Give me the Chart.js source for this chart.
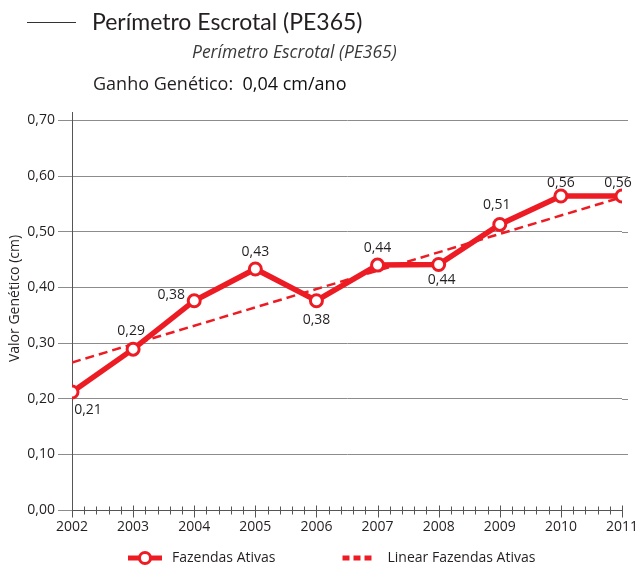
<!DOCTYPE html>
<html><head><meta charset="utf-8">
<script src="https://cdn.jsdelivr.net/npm/chart.js@4.4.1/dist/chart.umd.min.js"></script>
<style>
html,body{margin:0;padding:0;background:#fff;}
body{width:635px;height:568px;position:relative;overflow:hidden;font-family:Lato,"Open Sans",sans-serif;color:#231f20;}
#wrap{position:absolute;left:0;top:0;width:635px;height:575px;}
.t{position:absolute;white-space:nowrap;line-height:1;}
</style></head><body>
<div id="wrap"><canvas id="c" width="635" height="575"></canvas></div>
<div style="position:absolute;left:27px;top:22px;width:49px;height:1px;background:#333"></div>
<div class="t" style="left:92px;top:10px;font-size:23px;">Perímetro Escrotal (PE365)</div>
<div class="t" style="left:192px;top:43px;font-size:17.5px;font-style:italic;color:#3a3a3a;font-family:'Open Sans',sans-serif;">Perímetro Escrotal (PE365)</div>
<div class="t" style="left:93px;top:74px;font-size:18px;font-family:'Open Sans',sans-serif;">Ganho Genético:&nbsp; <span style="color:#111">0,04 cm/ano</span></div>
<script>
// ---- data ----
const anos = [2002, 2003, 2004, 2005, 2006, 2007, 2008, 2009, 2010, 2011];
const valores = [0.212, 0.289, 0.376, 0.433, 0.376, 0.440, 0.441, 0.513, 0.564, 0.564];
const tendenciaAnos = [2002, 2011];
const tendencia = [0.265, 0.562];
const yTicks = [0, 0.1, 0.2, 0.3, 0.4, 0.5, 0.6, 0.7];
const serieNome = 'Fazendas Ativas';
const tendenciaNome = 'Linear Fazendas Ativas';
const yTitulo = 'Valor Genético (cm)';

// ---- styles ----
const RED = '#ed1c24';
const TXT = '#231f20';
const FONT = '"Open Sans", sans-serif';
const labelOffsets = [[16,18],[-2,-18],[-23,-6],[0,-17],[0,19],[0,-17],[3,15],[-3,-19],[0,-13],[-4,-13]];
const LEGEND_START = 64;
const fmt = v => v.toFixed(2).replace('.', ',');

function legendImg(kind){
  const c = document.createElement('canvas');
  c.width = 101; c.height = 18;
  const g = c.getContext('2d');
  if (kind === 0){
    g.strokeStyle = RED; g.lineWidth = 5;
    g.beginPath(); g.moveTo(64, 9); g.lineTo(98, 9); g.stroke();
    g.beginPath(); g.arc(81, 9, 5.5, 0, Math.PI*2);
    g.fillStyle = '#fff'; g.fill(); g.lineWidth = 3; g.stroke();
  } else {
    g.fillStyle = RED;
    for (let k = 0; k < 3; k++) g.fillRect(63 + k*11, 6.5, 7, 5);
  }
  return c;
}
const imgs = [legendImg(0), legendImg(1)];

const legendShift = {
  id: 'legendShift',
  afterLayout(chart){
    const lg = chart.legend;
    if (!lg || !lg.lineWidths) return;
    const p = lg.options.labels.padding;
    const start = (lg.left + p + lg.right - lg.lineWidths[0]) / 2;
    const dx = start - LEGEND_START;
    lg.left -= dx; lg.right -= dx;
  }
};

const xTickPlugin = {
  id: 'xTickPlugin',
  afterDraw(chart){
    const ctx = chart.ctx, xs = chart.scales.x, ys = chart.scales.y;
    const y0 = Math.round(ys.getPixelForValue(0)) + 0.5;
    ctx.save();
    ctx.strokeStyle = '#8c8c8c'; ctx.lineWidth = 1; ctx.beginPath();
    const r = chart.chartArea.right;
    yTicks.forEach(v => { if (v > 0) { const py = Math.round(ys.getPixelForValue(v)) + 0.5; ctx.moveTo(r, py); ctx.lineTo(r + 6, py); } });
    ctx.stroke();
    ctx.strokeStyle = '#555'; ctx.beginPath();
    for (let i = 0; i < anos.length; i++){
      const px = Math.round(xs.getPixelForValue(anos[i])) + 0.5;
      ctx.moveTo(px, y0 - 5); ctx.lineTo(px, y0 + 7);
      if (i < anos.length - 1){
        for (let k = 1; k < 5; k++){
          const p = Math.round(xs.getPixelForValue(anos[i] + k/5)) + 0.5;
          ctx.moveTo(p, y0 - 4); ctx.lineTo(p, y0 + 4);
        }
      }
    }
    ctx.stroke();
    // y axis title, placed as in the original (slightly above the axis centre)
    ctx.translate(15, ys.getPixelForValue(0.38));
    ctx.rotate(-Math.PI / 2);
    ctx.font = '14px ' + FONT; ctx.fillStyle = TXT;
    ctx.textAlign = 'center'; ctx.textBaseline = 'middle';
    ctx.fillText(yTitulo, 0, 0);
    ctx.restore();
  }
};

const labelPlugin = {
  id: 'labelPlugin',
  afterDatasetsDraw(chart){
    const ctx = chart.ctx, meta = chart.getDatasetMeta(0);
    ctx.save();
    ctx.font = '14px ' + FONT; ctx.fillStyle = TXT;
    ctx.textAlign = 'center'; ctx.textBaseline = 'middle';
    meta.data.forEach((pt, i) => {
      const o = labelOffsets[i] || [0, -16];
      ctx.fillText(fmt(valores[i]), pt.x + o[0], pt.y + o[1]);
    });
    ctx.restore();
  }
};

new Chart(document.getElementById('c'), {
  type: 'line',
  data: {
    datasets: [
      {
        label: serieNome,
        data: anos.map((x, i) => ({x, y: valores[i]})),
        borderColor: RED, borderWidth: 5.5,
        pointRadius: 6, pointBorderWidth: 3,
        pointBackgroundColor: '#fff', pointBorderColor: RED,
        tension: 0, order: 0
      },
      {
        label: tendenciaNome,
        data: tendenciaAnos.map((x, i) => ({x, y: tendencia[i]})),
        borderColor: RED, borderWidth: 2.5, borderDash: [9, 5],
        pointRadius: 0, tension: 0, order: 1
      }
    ]
  },
  options: {
    responsive: false, animation: false, devicePixelRatio: 1,
    layout: { padding: { top: 112, right: 0, left: 0, bottom: 0 } },
    plugins: {
      tooltip: { enabled: false },
      legend: {
        position: 'bottom',
        labels: {
          usePointStyle: true, pointStyleWidth: 101, padding: 4,
          color: TXT, font: { family: FONT, size: 14 },
          generateLabels: (chart) => Chart.defaults.plugins.legend.labels.generateLabels(chart)
            .map((l, i) => Object.assign(l, { pointStyle: imgs[i] }))
        }
      }
    },
    scales: {
      x: {
        type: 'linear', min: 2002, max: 2011,
        afterBuildTicks: s => { s.ticks = anos.map(v => ({value: v})); },
        afterFit: s => { s.height = 37; s.paddingRight = 13; s.paddingLeft = 0; },
        ticks: { callback: v => String(v), color: TXT, font: { family: FONT, size: 14 }, padding: 1, maxRotation: 0, autoSkip: false },
        grid: { display: false },
        border: { display: true, color: '#555', width: 1 }
      },
      y: {
        min: 0, max: 0.715,
        afterBuildTicks: s => { s.ticks = yTicks.map(v => ({value: v})); },
        afterFit: s => { s.width = 72; },
        ticks: { callback: v => fmt(v), color: TXT, font: { family: FONT, size: 14 }, padding: 3 },
        grid: { color: '#8c8c8c', lineWidth: 1, tickLength: 14, drawTicks: true },
        border: { display: true, color: '#555', width: 1 },
        title: { display: false }
      }
    }
  },
  plugins: [legendShift, xTickPlugin, labelPlugin]
});
</script>
</body></html>
